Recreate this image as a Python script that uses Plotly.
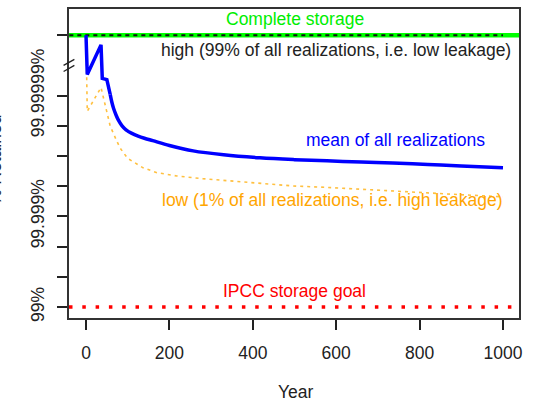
import plotly.graph_objects as go

# Retention expressed as "number of nines": n = -log10(fraction leaked)
# (2 -> 99 %, 5 -> 99.999 %, ...); n = 11 stands for complete storage,
# drawn above an axis break at n = 10.
years_mean_early = [0, 3, 36, 39, 50, 58]
mean_nines_early = [11.0, 9.70, 10.68, 9.57, 9.53, 9.04]

years_mean_tail = [58, 62, 66, 72, 78, 86, 96, 110, 125, 140, 160, 200, 257, 330, 417, 500, 578, 660, 736, 820, 900, 1000]
mean_nines_tail = [9.04, 8.78, 8.58, 8.36, 8.18, 8.01, 7.87, 7.75, 7.66, 7.59, 7.51, 7.35, 7.17, 7.04, 6.94, 6.88, 6.84, 6.80, 6.77, 6.72, 6.67, 6.61]

years_low = [0, 2, 3, 36, 58, 74, 82, 100, 137, 170, 218, 280, 338, 420, 496, 580, 657, 736, 820, 900, 1000]
low_nines = [11.0, 9.57, 8.48, 9.27, 7.99, 7.49, 7.26, 6.92, 6.61, 6.45, 6.34, 6.25, 6.18, 6.09, 6.01, 5.96, 5.91, 5.85, 5.78, 5.72, 5.65]

years_high = [-40, 1000]
high_nines = [11.0, 11.0]

complete_nines = 11.0
ipcc_goal_nines = 2.0

y_tick_vals = [2, 3, 4, 5, 6, 7, 8, 9, 11]
y_tick_text = ["99%", "", "", "99.999%", "", "", "", "99.99999%", ""]
x_tick_vals = [0, 200, 400, 600, 800, 1000]

X_RANGE = [-40.8, 1038.4]
Y_RANGE = [1.638, 11.868]
FONT = "Liberation Sans, Arial, sans-serif"
FS = 17.5

fig = go.Figure()

# complete storage reference line
fig.add_trace(go.Scatter(
    x=X_RANGE, y=[complete_nines, complete_nines], mode="lines",
    line=dict(color="#00FF00", width=4.5), hoverinfo="skip"))

# IPCC storage goal
fig.add_trace(go.Scatter(
    x=X_RANGE, y=[ipcc_goal_nines, ipcc_goal_nines], mode="lines",
    line=dict(color="#FF0000", width=3.5, dash="3.5px,9.8px"), hoverinfo="skip"))

# 1 % quantile (high leakage)
fig.add_trace(go.Scatter(
    x=years_low, y=low_nines, mode="lines",
    line=dict(color="#FFC040", width=1.6, dash="3px,4px")))

# 99 % quantile (low leakage)
fig.add_trace(go.Scatter(
    x=years_high, y=high_nines, mode="lines",
    line=dict(color="#111111", width=2, dash="4px,4px")))

# mean of all realizations: early oscillation, then smooth decay
fig.add_trace(go.Scatter(
    x=years_mean_early, y=mean_nines_early, mode="lines",
    line=dict(color="#0000FF", width=3.5)))
fig.add_trace(go.Scatter(
    x=years_mean_tail, y=mean_nines_tail, mode="lines",
    line=dict(color="#0000FF", width=3.5, shape="spline", smoothing=1.0)))

labels = [
    (500, 11.54, "Complete storage", "#00EE00"),
    (600, 10.52, "high (99% of all realizations, i.e. low leakage)", "#222222"),
    (743, 7.53, "mean of all realizations", "#0000FF"),
    (589, 5.55, "low (1% of all realizations, i.e. high leakage)", "#FFA500"),
    (501, 2.53, "IPCC storage goal", "#FF0000"),
]
for x, y, text, color in labels:
    fig.add_annotation(x=x, y=y, text=text, showarrow=False,
                       xanchor="center", yanchor="middle",
                       font=dict(family=FONT, size=FS, color=color))

# y-axis title
fig.add_annotation(x=-0.163, y=0.51, xref="paper", yref="paper",
                   text="% Retained", textangle=-90, showarrow=False,
                   xanchor="center", yanchor="middle",
                   font=dict(family=FONT, size=FS, color="#222222"))
# x-axis title
fig.add_annotation(x=0.505, y=-0.238, xref="paper", yref="paper",
                   text="Year", showarrow=False,
                   xanchor="center", yanchor="middle",
                   font=dict(family=FONT, size=FS, color="#222222"))

# axis break marks on the left axis at n = 10
for dy in (-0.1, 0.1):
    fig.add_shape(type="line", xref="paper", yref="y",
                  x0=-0.012, x1=0.012, y0=10 + dy - 0.1, y1=10 + dy + 0.1,
                  line=dict(color="#222222", width=1.3))

fig.update_layout(
    width=533, height=405,
    margin=dict(l=69, r=14, t=7, b=87),
    paper_bgcolor="white", plot_bgcolor="white",
    showlegend=False,
    font=dict(family=FONT, size=FS, color="#222222"),
    xaxis=dict(range=X_RANGE, tickvals=x_tick_vals, ticks="outside",
               ticklen=10, tickwidth=1.5, tickcolor="#222222",
               showline=True, linecolor="#333333", linewidth=1.5, mirror=True,
               showgrid=False, zeroline=False, ticklabelstandoff=8,
               tickfont=dict(size=FS, color="#222222")),
    yaxis=dict(range=Y_RANGE, tickvals=y_tick_vals, ticktext=y_tick_text,
               ticks="outside", ticklen=10, tickwidth=1.5, tickcolor="#222222",
               tickangle=-90,
               showline=True, linecolor="#333333", linewidth=1.5, mirror=True,
               showgrid=False, zeroline=False, ticklabelstandoff=6,
               tickfont=dict(size=FS, color="#222222")),
)

fig.write_html("out.html")
